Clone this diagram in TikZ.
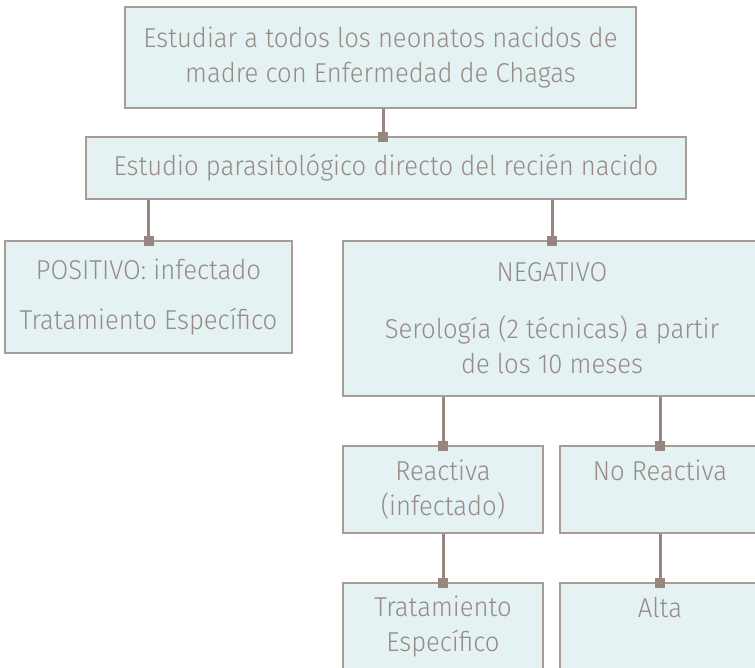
\documentclass[tikz,border=0pt]{standalone}
\usepackage{fontspec}
\setmainfont{Fira Sans Light}[FakeStretch=0.94]
\usepackage{tikz}
\usetikzlibrary{arrows.meta,positioning}

\definecolor{boxfill}{HTML}{E4F2F3}
\definecolor{boxline}{HTML}{A89C97}
\definecolor{boxtext}{HTML}{978B86}
\definecolor{linkcol}{HTML}{978780}

\begin{document}
\begin{tikzpicture}[x=1pt,y=1pt]

  % Parameters
  \def\hbx{87}
  \def\fs{\fontsize{27.3}{35}\selectfont}

  % Styles
  \tikzstyle{box}=[draw=boxline,line width=1.6pt,fill=boxfill,text=boxtext,align=center,inner sep=0pt,font=\fs]
  \tikzstyle{link}=[draw=linkcol,line width=3pt,-{Square[length=10pt,width=10pt]},shorten >=-6pt]

  % Page
  \useasboundingbox (0,0) rectangle (755,-668);
  \clip (0,0) rectangle (755,-668);

  % Boxes
  \node[box,minimum width=511,minimum height=101] (madre) at (380.5,-57.5)
    {Estudiar a todos los neonatos nacidos de\\madre con Enfermedad de Chagas};
  \node[box,minimum width=600,minimum height=62] (estudio) at (386,-168)
    {Estudio parasitológico directo del recién nacido};
  \node[box,minimum width=287,minimum height=112] (pos) at (148.5,-297)
    {POSITIVO: infectado\\[15pt]Tratamiento Específico};
  \node[box,minimum width=418,minimum height=155] (neg) at (552,-318.5)
    {NEGATIVO\\[22pt]Serología (2 técnicas) a partir\\de los 10 meses};
  \node[box,minimum width=200,minimum height=\hbx] (reac) at (443,-489.5)
    {Reactiva\\(infectado)};
  \node[box,minimum width=200,minimum height=\hbx] (noreac) at (660,-489.5)
    {No Reactiva\\\phantom{(}};
  \node[box,minimum width=200,minimum height=\hbx] (trat) at (443,-626.5)
    {Tratamiento\\Específico};
  \node[box,minimum width=200,minimum height=\hbx] (alta) at (660,-626.5)
    {Alta\\\phantom{(}};

  % Connectors
  \draw[link] (madre.south -| 383,0) -- (estudio.north -| 383,0);
  \draw[link] (estudio.south -| pos.north) -- (pos.north);
  \draw[link] (estudio.south -| neg.north) -- (neg.north);
  \draw[link] (neg.south -| reac.north) -- (reac.north);
  \draw[link] (neg.south -| noreac.north) -- (noreac.north);
  \draw[link] (reac.south) -- (trat.north);
  \draw[link] (noreac.south) -- (alta.north);

\end{tikzpicture}
\end{document}
